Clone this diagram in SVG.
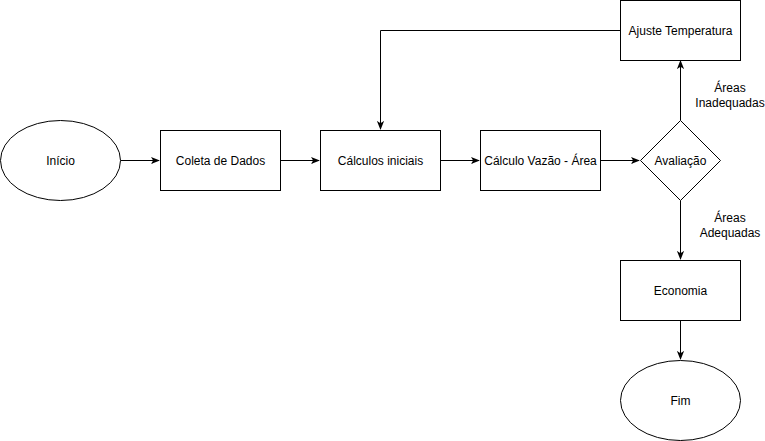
<svg xmlns="http://www.w3.org/2000/svg" width="765" height="441" viewBox="0 0 765 441">
<style>
.s{fill:#fff;stroke:#000;stroke-width:1}
.t{font-family:"Liberation Sans",Arial,sans-serif;font-size:12px;fill:#000;text-anchor:middle;dominant-baseline:central}
.c{fill:none;stroke:#000;stroke-width:1}
</style>
<defs>
<marker id="a" viewBox="0 0 10 10" refX="9" refY="5" markerWidth="9" markerHeight="9" markerUnits="userSpaceOnUse" orient="auto">
<path d="M0,1 L10,5 L0,9 L2.5,5 Z" fill="#000"/>
</marker>
</defs>
<rect width="765" height="441" fill="#fff"/>
<g id="connectors">
<path class="c" d="M120.5,160.5 H159" marker-end="url(#a)"/>
<path class="c" d="M280.5,160.5 H319" marker-end="url(#a)"/>
<path class="c" d="M440.5,160.5 H479" marker-end="url(#a)"/>
<path class="c" d="M600.5,160.5 H639" marker-end="url(#a)"/>
<path class="c" d="M680.5,120.5 V61" marker-end="url(#a)"/>
<path class="c" d="M680.5,200.5 V259" marker-end="url(#a)"/>
<path class="c" d="M680.5,320.5 V359" marker-end="url(#a)"/>
<path class="c" d="M620.5,30.5 H380.5 V129" marker-end="url(#a)"/>
<text class="t" x="730" y="88">Áreas</text>
<text class="t" x="730" y="103">Inadequadas</text>
<text class="t" x="730" y="218">Áreas</text>
<text class="t" x="730" y="233">Adequadas</text>
</g>
<g id="inicio"><ellipse class="s" cx="60.5" cy="160.5" rx="60" ry="40"/><text class="t" x="60.5" y="160.5">Início</text></g>
<g id="coleta"><rect class="s" x="160.5" y="130.5" width="120" height="60"/><text class="t" x="220.5" y="160.5">Coleta de Dados</text></g>
<g id="calculos"><rect class="s" x="320.5" y="130.5" width="120" height="60"/><text class="t" x="380.5" y="160.5">Cálculos iniciais</text></g>
<g id="vazao"><rect class="s" x="480.5" y="130.5" width="120" height="60"/><text class="t" x="540.5" y="160.5">Cálculo Vazão - Área</text></g>
<g id="avaliacao"><path class="s" d="M680.5,120.5 L720.5,160.5 L680.5,200.5 L640.5,160.5 Z"/><text class="t" x="680.5" y="160.5">Avaliação</text></g>
<g id="ajuste"><rect class="s" x="620.5" y="0.5" width="120" height="60"/><text class="t" x="680.5" y="30.5">Ajuste Temperatura</text></g>
<g id="economia"><rect class="s" x="620.5" y="260.5" width="120" height="60"/><text class="t" x="680.5" y="290.5">Economia</text></g>
<g id="fim"><ellipse class="s" cx="680.5" cy="400.5" rx="60" ry="40"/><text class="t" x="680.5" y="400.5">Fim</text></g>
</svg>
